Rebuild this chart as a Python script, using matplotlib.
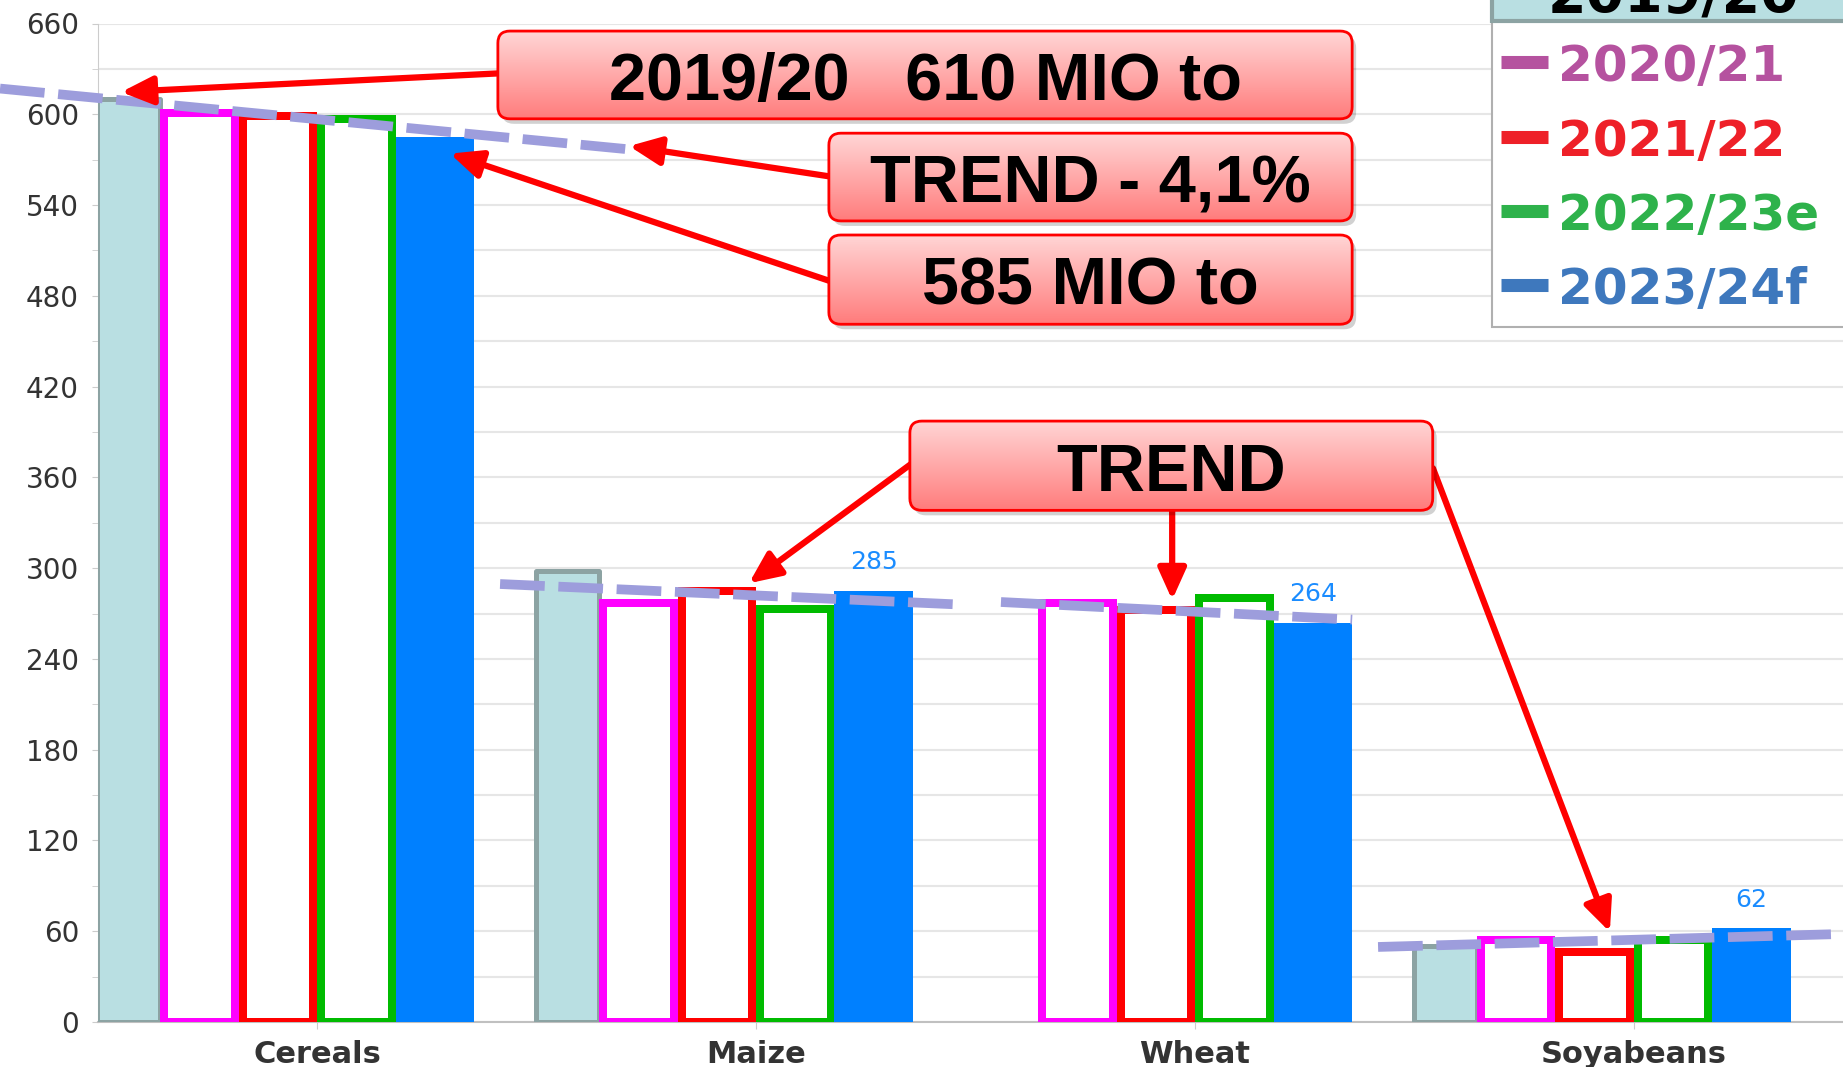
import numpy as np
import matplotlib.pyplot as plt
from matplotlib.patches import FancyBboxPatch, Rectangle
from matplotlib.lines import Line2D
from matplotlib.transforms import IdentityTransform
from matplotlib.colors import LinearSegmentedColormap

plt.rcParams['font.family'] = ['DejaVu Sans']

# data -------------------------------------------------------------------------
categories = ['Cereals', 'Maize', 'Wheat', 'Soyabeans']
seasons = ['2019/20', '2020/21', '2021/22', '2022/23e', '2023/24f']
v_2019_20 = [610, 298, np.nan, 50]
v_2020_21 = [601, 277, 277, 54]
v_2021_22 = [599, 285, 272, 46]
v_2022_23 = [597, 273, 280, 54]
v_2023_24 = [585, 285, 264, 62]
blue_labels = ['', '285', '264', '62']

# hand drawn trend lines (x in category units, y in mio t)
trend_cereals_x = [-0.722, 0.704]
trend_cereals_y = [617, 577]
trend_maize_x = [0.417, 1.46]
trend_maize_y = [289.5, 276]
trend_wheat_x = [1.558, 2.358]
trend_wheat_y = [277.6, 266]
trend_soy_x = [2.417, 3.5]
trend_soy_y = [49.6, 58.4]

# callout boxes: centre x, centre y, width, height, text
callouts = [
    (1.385, 626, 1.946, 58, '2019/20   610 MIO to'),
    (1.762, 558.5, 1.192, 58, 'TREND - 4,1%'),
    (1.762, 490.7, 1.192, 59, '585 MIO to'),
    (1.946, 367.7, 1.191, 59, 'TREND'),
]
# arrows: (tail), (head)
arrows = [
    ((0.412, 627), (-0.446, 614.7)),
    ((1.166, 559), (0.711, 579)),
    ((1.166, 490), (0.303, 574)),
    ((1.353, 368.8), (0.984, 290)),
    ((1.948, 338), (1.948, 279)),
    ((2.542, 366), (2.945, 59.5)),
]

legend_colors = ['#b5529f', '#ee2028', '#2eb24b', '#3e78bd']

# figure -----------------------------------------------------------------------
W, H = 1843, 1067
fig = plt.figure(figsize=(W / 100, H / 100), dpi=100)
ax = fig.add_axes([97.5 / W, 45 / H, 1756 / W, 998.5 / H])
ax.set_xlim(-0.5, 3.5)
ax.set_ylim(0, 660)
ax.set_autoscale_on(False)

x = np.arange(len(categories))
px = 1 / 439  # one pixel in category units
slot = 78.5 * px
lw_px = 8

# 2019/20 bars sit a bit apart
ax.bar(x - 189 * px, v_2019_20, width=63 * px, color='#b9dfe2', edgecolor='#8ca3a3',
       linewidth=5 * 0.72, zorder=3, joinstyle='round')
open_series = [(v_2020_21, '#ff00ff'), (v_2021_22, '#ff0000'), (v_2022_23, '#00bb00')]
for i, (vals, col) in enumerate(open_series):
    ax.bar(x + (i - 1.5) * slot, vals, width=slot - lw_px * px, facecolor='white',
           edgecolor=col, linewidth=lw_px * 0.72, zorder=3)
blue = ax.bar(x + 1.5 * slot, v_2023_24, width=slot, color='#0080ff', zorder=3)
ax.bar_label(blue, labels=blue_labels, padding=12, color='#1a8cff', fontsize=18)

# trend lines
for tx, ty in [(trend_cereals_x, trend_cereals_y), (trend_maize_x, trend_maize_y),
               (trend_wheat_x, trend_wheat_y), (trend_soy_x, trend_soy_y)]:
    ax.plot(tx, ty, color='#9d9ddc', lw=7, dashes=(4.6, 1.4), zorder=5,
            clip_on=False, solid_capstyle='butt', dash_capstyle='butt')

# axes styling
ax.set_yticks(range(0, 661, 60))
ax.set_yticks(range(30, 660, 60), minor=True)
ax.grid(True, axis='y', which='both', color='#e6e6e6', lw=1.5, zorder=0)
ax.tick_params(axis='y', which='both', length=6 * 0.72, color='#cccccc', labelsize=20,
               labelcolor='#333333', pad=9)
ax.set_xticks(x)
ax.set_xticklabels(categories, fontsize=22, fontweight='bold', color='#333333')
ax.tick_params(axis='x', length=7 * 0.72, color='#cccccc', pad=8)
for s in ['top', 'right']:
    ax.spines[s].set_visible(False)
ax.spines['left'].set_color('#cccccc')
ax.spines['bottom'].set_color('#c0c0c0')
ax.spines['bottom'].set_linewidth(1.5)
ax.set_axisbelow(True)

# arrows
for tail, head in arrows:
    ax.annotate('', xy=head, xytext=tail, annotation_clip=False,
                arrowprops=dict(arrowstyle='-|>,head_length=1.0,head_width=0.45',
                                mutation_scale=19, color='#ff0000', lw=4.5,
                                shrinkA=0, shrinkB=0), zorder=6)

# callout boxes with gradient fill
grad = np.linspace(0, 1, 100).reshape(-1, 1)
pink = LinearSegmentedColormap.from_list('pink', ['#ff7c7c', '#ffd6d6'])
for xc, yc, w, h, txt in callouts:
    x0, y0 = ax.transData.transform((xc - w / 2, yc - h / 2))
    x1, y1 = ax.transData.transform((xc + w / 2, yc + h / 2))
    shadow = FancyBboxPatch((x0 + 4, y0 - 5), x1 - x0, y1 - y0,
                            boxstyle='round,pad=0,rounding_size=12',
                            transform=IdentityTransform(), fc='#000000', ec='none',
                            alpha=0.18, zorder=6.5)
    ax.add_artist(shadow)
    box = FancyBboxPatch((x0, y0), x1 - x0, y1 - y0,
                         boxstyle='round,pad=0,rounding_size=12',
                         transform=IdentityTransform(), fc='none', ec='#ff0000',
                         lw=2, zorder=7.5)
    ax.add_artist(box)
    im = ax.imshow(grad, cmap=pink, origin='lower', aspect='auto',
                   extent=(xc - w / 2, xc + w / 2, yc - h / 2, yc + h / 2), zorder=7)
    im.set_clip_path(box)
    # baseline half a cap height below the box centre
    ax.text(xc, yc - 16.5, txt, ha='center', va='baseline', fontsize=48, fontweight='bold',
            family=['Liberation Sans', 'DejaVu Sans'], color='black', zorder=8)

# legend (cut by the screenshot edge)
def fx(p):
    return p / W

def fy(p):
    return 1 - p / H

fig.add_artist(Rectangle((fx(1492), fy(327)), fx(1850) - fx(1492), fy(21) - fy(327),
                         transform=fig.transFigure, fc='white', ec='#b0b0b0', lw=1.5, zorder=9))
fig.add_artist(Rectangle((fx(1492), fy(21)), fx(1850) - fx(1492), 50 / H,
                         transform=fig.transFigure, fc='#b9dfe2', ec='#8ca3a3', lw=3, zorder=9))
fig.text(fx(1673), fy(13), seasons[0], ha='center', va='baseline', fontsize=40,
         fontweight='bold', color='black', zorder=10)
marker_y = [62, 137, 211, 285]
for name, col, my in zip(seasons[1:], legend_colors, marker_y):
    fig.add_artist(Line2D([fx(1501), fx(1548)], [fy(my), fy(my)], color=col, lw=9.4,
                          solid_capstyle='butt', transform=fig.transFigure, zorder=10))
    fig.text(fx(1558), fy(my + 19), name, ha='left', va='baseline', fontsize=36,
             fontweight='bold', color=col, zorder=10)

fig.savefig('out.png', dpi=100)
